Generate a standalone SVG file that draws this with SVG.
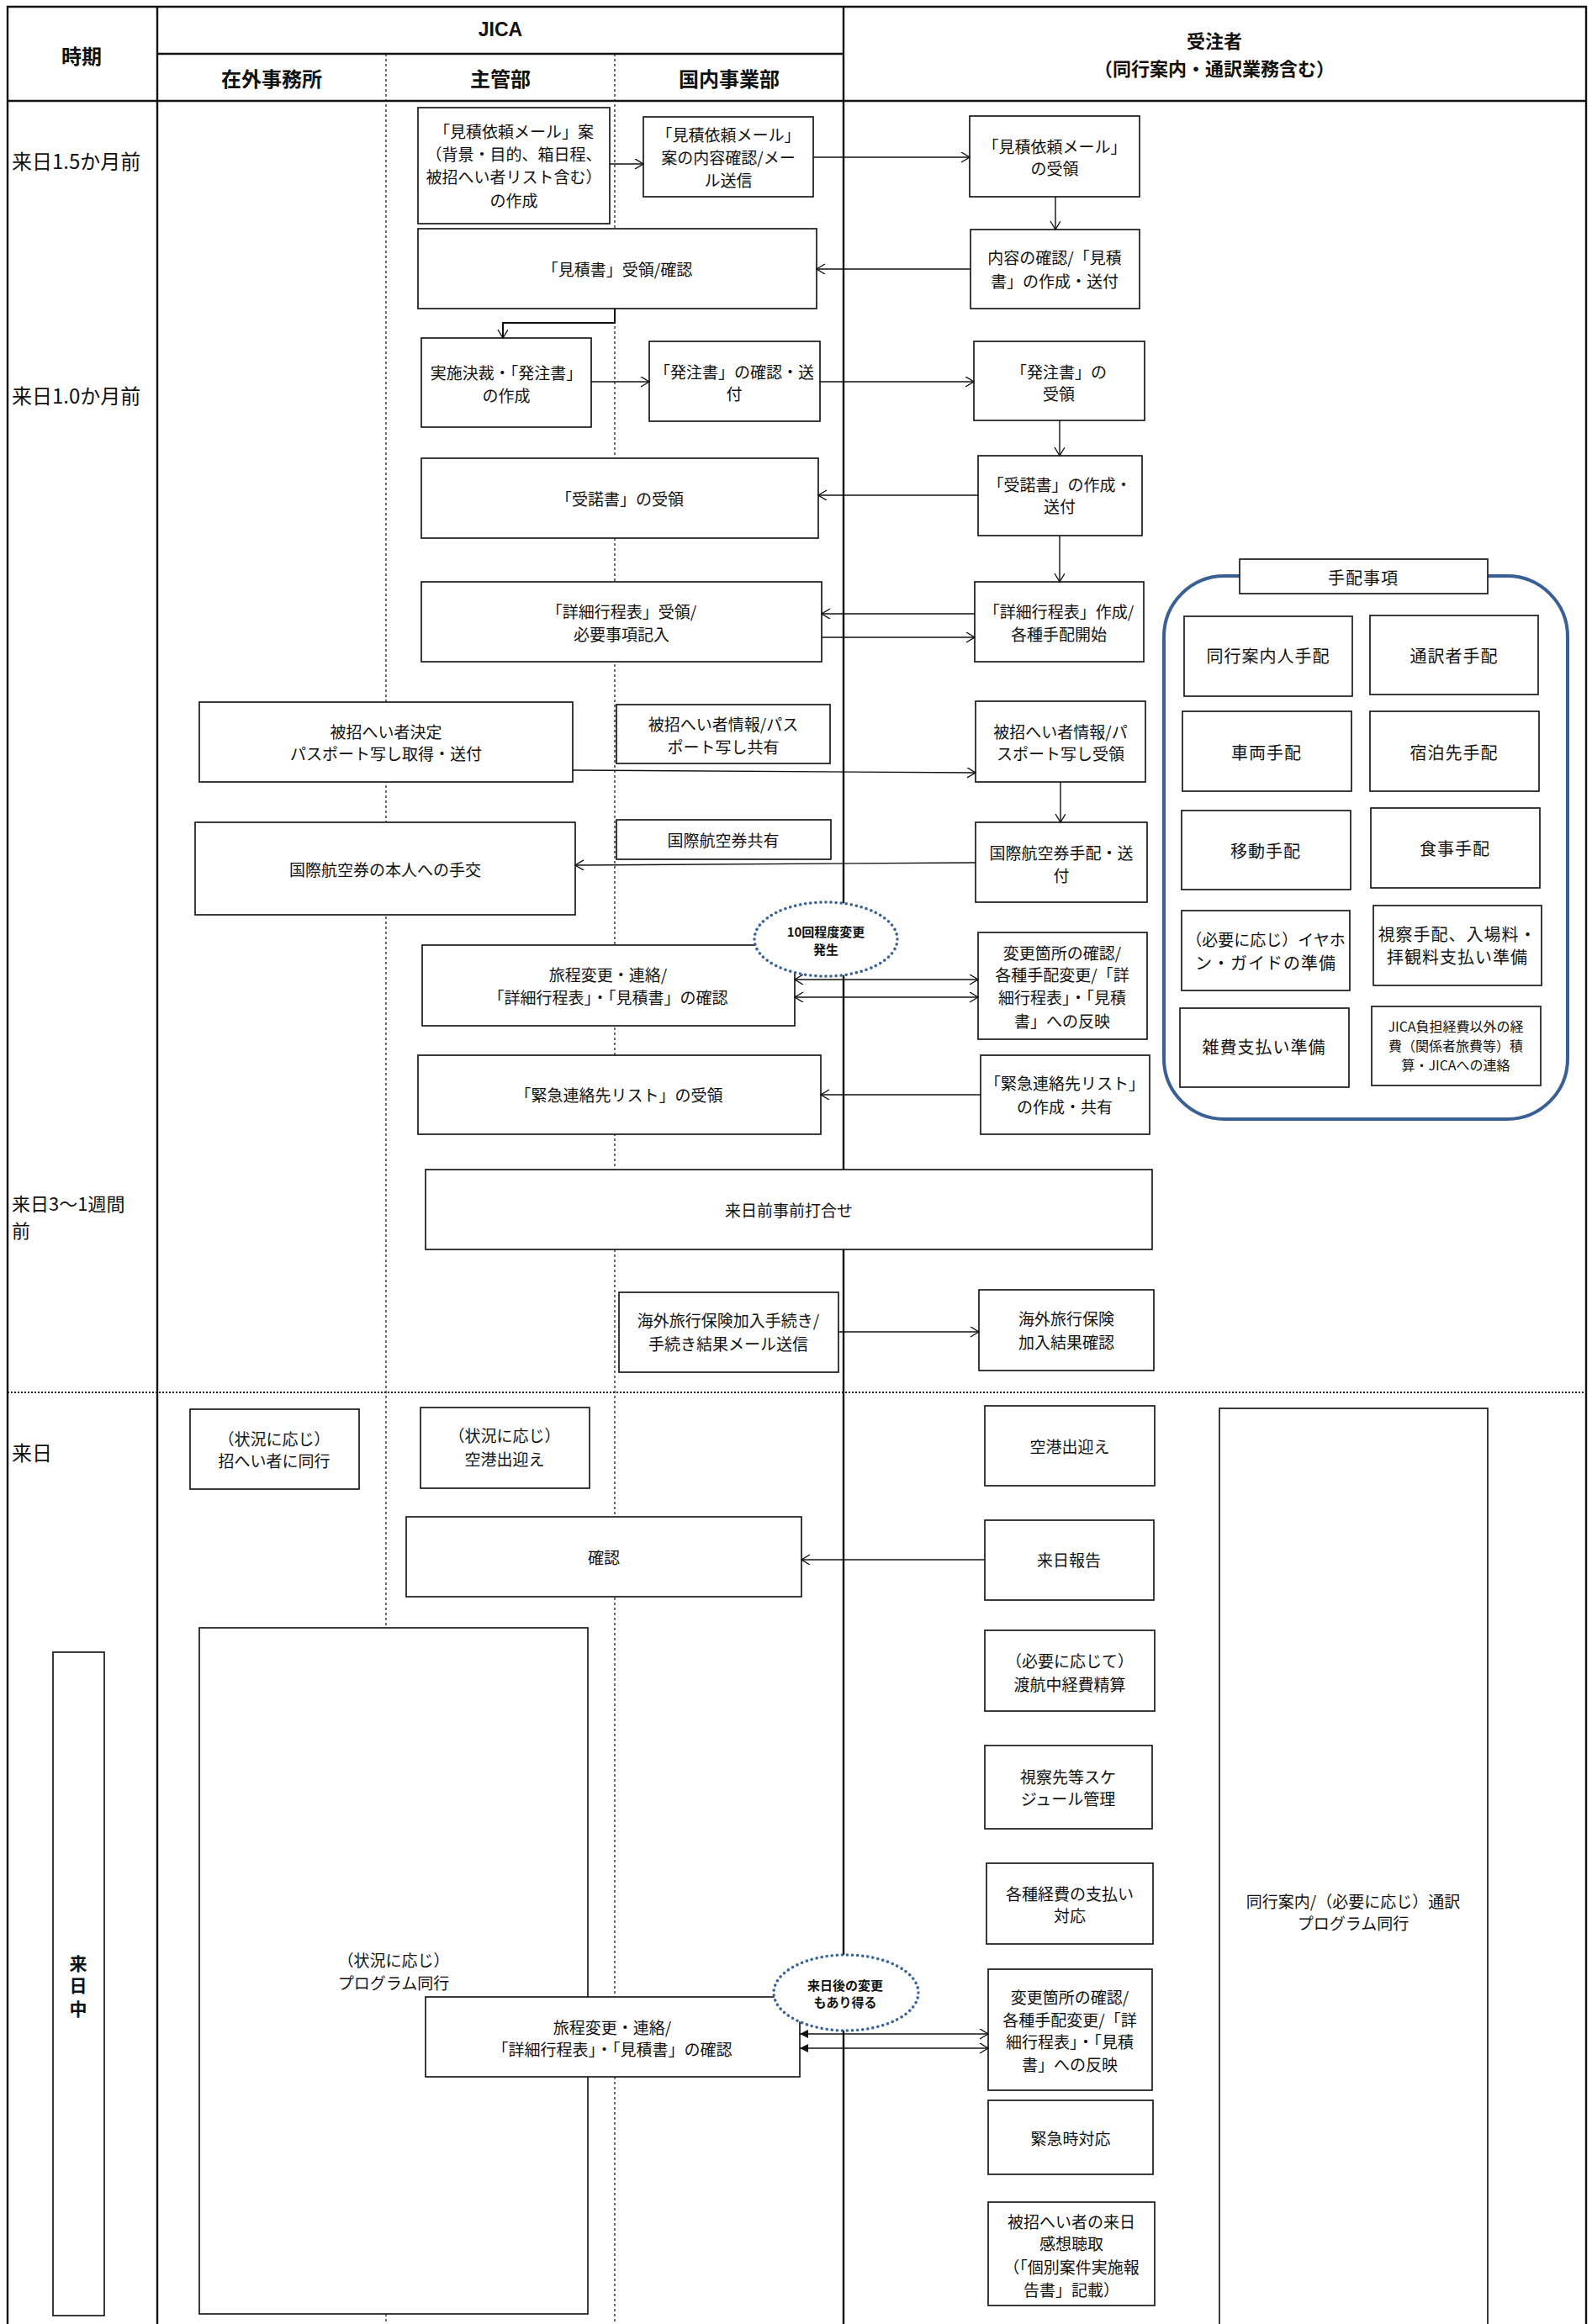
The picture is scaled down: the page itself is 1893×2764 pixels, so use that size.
<svg xmlns="http://www.w3.org/2000/svg" width="1893" height="2764" viewBox="0 0 1893 2764">
<style>
.t{font-family:"Noto Sans CJK JP","Noto Sans",sans-serif;font-size:19px;text-anchor:middle;dominant-baseline:central;fill:#111}
.g{font-size:20px;letter-spacing:1px}
.s{font-size:16px}
.h{font-weight:bold;font-size:24px}
.l{font-size:24px;text-anchor:start}
.e{font-weight:bold;font-size:15px}
.b{fill:#fff;stroke:#1a1a1a;stroke-width:1.7}
.fr{fill:none;stroke:#111;stroke-width:2.4}
.dt{fill:none;stroke:#222;stroke-width:1.3;stroke-dasharray:3 3}
.c{fill:none;stroke:#111;stroke-width:1.4}
.ca{fill:none;stroke:#111;stroke-width:1.4;marker-end:url(#ah)}
.cd{fill:none;stroke:#111;stroke-width:1.4;marker-start:url(#ah);marker-end:url(#ah)}
.cf{fill:none;stroke:#111;stroke-width:1.4;marker-start:url(#af);marker-end:url(#ah)}
.el{fill:#fff;stroke:#3b6397;stroke-width:3.5;stroke-dasharray:0.1 6;stroke-linecap:round}
</style>
<defs>
<marker id="ah" markerUnits="userSpaceOnUse" markerWidth="14" markerHeight="14" refX="11" refY="6" orient="auto-start-reverse">
<path d="M1,0 L11,6 L1,12" fill="none" stroke="#111" stroke-width="1.4"/>
</marker>
<marker id="af" markerUnits="userSpaceOnUse" markerWidth="14" markerHeight="14" refX="10" refY="5" orient="auto-start-reverse">
<path d="M0,0 L10,5 L0,10 Z" fill="#111"/>
</marker>
</defs>
<rect x="0" y="0" width="1893" height="2764" fill="#fff"/>

<g id="frame">
<path class="fr" d="M9,2764 V8 H1886 V2764"/>
<path class="fr" d="M187,8 V2764 M1003,8 V2764 M187,64 H1003 M9,120 H1886"/>
<path class="dt" d="M459,64 V2764 M731,64 V2764"/>
<path fill="none" stroke="#222" stroke-width="2.2" stroke-dasharray="2 2" d="M9,1656 H1886"/>
<text class="t h" x="97" y="65">時期</text>
<text class="t h" x="595" y="35" style="font-family:'Liberation Sans',sans-serif;font-size:23px">JICA</text>
<text class="t h" x="323" y="92">在外事務所</text>
<text class="t h" x="595" y="92">主管部</text>
<text class="t h" x="867" y="92">国内事業部</text>
<text class="t h" x="1444" y="47" style="font-size:22px">受注者</text>
<text class="t h" x="1444" y="80" style="font-size:22px">（同行案内・通訳業務含む）</text>
<text class="t l" x="14" y="190">来日1.5か月前</text>
<text class="t l" x="14" y="469">来日1.0か月前</text>
<text class="t l" x="14" y="1430" style="font-size:22px">来日3〜1週間</text>
<text class="t l" x="14" y="1462" style="font-size:22px">前</text>
<text class="t l" x="14" y="1726">来日</text>
</g>

<g id="n-mitsumori-an"><rect class="b" x="497" y="128" width="228" height="138"/>
<text class="t" x="611" y="155">「見積依頼メール」案</text><text class="t" x="611" y="182">（背景・目的、箱日程、</text><text class="t" x="611" y="209">被招へい者リスト含む）</text><text class="t" x="611" y="237">の作成</text></g>
<g id="n-mitsumori-kakunin"><rect class="b" x="765" y="139" width="202" height="95"/>
<text class="t" x="866" y="159">「見積依頼メール」</text><text class="t" x="866" y="186">案の内容確認/メー</text><text class="t" x="866" y="213">ル送信</text></g>
<g id="n-mitsumori-juryo"><rect class="b" x="1153" y="138" width="202" height="96"/>
<text class="t" x="1254" y="173">「見積依頼メール」</text><text class="t" x="1254" y="199">の受領</text></g>
<g id="n-mitsumorisho"><rect class="b" x="497" y="272" width="474" height="95"/>
<text class="t" x="734" y="319">「見積書」受領/確認</text></g>
<g id="n-naiyo"><rect class="b" x="1154" y="273" width="201" height="94"/>
<text class="t" x="1254" y="305">内容の確認/「見積</text><text class="t" x="1254" y="333">書」の作成・送付</text></g>
<g id="n-jisshi"><rect class="b" x="501" y="402" width="202" height="106"/>
<text class="t" x="602" y="442">実施決裁・「発注書」</text><text class="t" x="602" y="469">の作成</text></g>
<g id="n-hatchu-kakunin"><rect class="b" x="772" y="406" width="203" height="95"/>
<text class="t" x="873" y="441">「発注書」の確認・送</text><text class="t" x="873" y="467">付</text></g>
<g id="n-hatchu-juryo"><rect class="b" x="1158" y="406" width="203" height="94"/>
<text class="t" x="1259" y="441">「発注書」の</text><text class="t" x="1259" y="467">受領</text></g>
<g id="n-judaku-juryo"><rect class="b" x="501" y="545" width="472" height="95"/>
<text class="t" x="737" y="592">「受諾書」の受領</text></g>
<g id="n-judaku-sakusei"><rect class="b" x="1163" y="542" width="195" height="95"/>
<text class="t" x="1260" y="575">「受諾書」の作成・</text><text class="t" x="1260" y="601">送付</text></g>
<g id="n-shosai-juryo"><rect class="b" x="501" y="692" width="476" height="95"/>
<text class="t" x="739" y="726">「詳細行程表」受領/</text><text class="t" x="739" y="753">必要事項記入</text></g>
<g id="n-shosai-sakusei"><rect class="b" x="1159" y="692" width="201" height="95"/>
<text class="t" x="1259" y="726">「詳細行程表」作成/</text><text class="t" x="1259" y="753">各種手配開始</text></g>
<g id="n-kettei"><rect class="b" x="237" y="835" width="444" height="95"/>
<text class="t" x="459" y="869">被招へい者決定</text><text class="t" x="459" y="895">パスポート写し取得・送付</text></g>
<g id="n-passport-kyoyu"><rect class="b" x="733" y="838" width="254" height="70"/>
<text class="t" x="860" y="860">被招へい者情報/パス</text><text class="t" x="860" y="887">ポート写し共有</text></g>
<g id="n-passport-juryo"><rect class="b" x="1160" y="834" width="202" height="96"/>
<text class="t" x="1261" y="869">被招へい者情報/パ</text><text class="t" x="1261" y="895">スポート写し受領</text></g>
<g id="n-koku-kyoyu"><rect class="b" x="733" y="975" width="255" height="47"/>
<text class="t" x="860" y="998">国際航空券共有</text></g>
<g id="n-koku-teko"><rect class="b" x="232" y="978" width="452" height="110"/>
<text class="t" x="458" y="1033">国際航空券の本人への手交</text></g>
<g id="n-koku-tehai"><rect class="b" x="1160" y="978" width="204" height="95"/>
<text class="t" x="1262" y="1013">国際航空券手配・送</text><text class="t" x="1262" y="1040">付</text></g>
<g id="n-ryotei1"><rect class="b" x="502" y="1124" width="443" height="96"/>
<text class="t" x="723" y="1158">旅程変更・連絡/</text><text class="t" x="723" y="1185">「詳細行程表」・「見積書」の確認</text></g>
<g id="n-henko1"><rect class="b" x="1163" y="1109" width="201" height="127"/>
<text class="t" x="1263" y="1132">変更箇所の確認/</text><text class="t" x="1263" y="1158">各種手配変更/「詳</text><text class="t" x="1263" y="1185">細行程表」・「見積</text><text class="t" x="1263" y="1213">書」への反映</text></g>
<g id="n-kinkyu-juryo"><rect class="b" x="497" y="1255" width="479" height="94"/>
<text class="t" x="736" y="1301">「緊急連絡先リスト」の受領</text></g>
<g id="n-kinkyu-sakusei"><rect class="b" x="1166" y="1255" width="201" height="94"/>
<text class="t" x="1266" y="1287">「緊急連絡先リスト」</text><text class="t" x="1266" y="1315">の作成・共有</text></g>
<g id="n-uchiawase"><rect class="b" x="506" y="1391" width="864" height="95"/>
<text class="t" x="938" y="1438">来日前事前打合せ</text></g>
<g id="n-hoken"><rect class="b" x="736" y="1537" width="261" height="95"/>
<text class="t" x="866" y="1569">海外旅行保険加入手続き/</text><text class="t" x="866" y="1597">手続き結果メール送信</text></g>
<g id="n-hoken-kakunin"><rect class="b" x="1164" y="1534" width="208" height="96"/>
<text class="t" x="1268" y="1567">海外旅行保険</text><text class="t" x="1268" y="1595">加入結果確認</text></g>
<g id="n-zaigai-doko"><rect class="b" x="226" y="1676" width="201" height="95"/>
<text class="t" x="326" y="1710">（状況に応じ）</text><text class="t" x="326" y="1736">招へい者に同行</text></g>
<g id="n-shukan-demukae"><rect class="b" x="500" y="1674" width="201" height="96"/>
<text class="t" x="600" y="1706">（状況に応じ）</text><text class="t" x="600" y="1734">空港出迎え</text></g>
<g id="n-kuko"><rect class="b" x="1171" y="1672" width="202" height="95"/>
<text class="t" x="1272" y="1719">空港出迎え</text></g>
<g id="n-doko-tsuyaku"><rect class="b" x="1450" y="1675" width="319" height="1130"/>
<text class="t" x="1609" y="2260">同行案内/（必要に応じ）通訳</text><text class="t" x="1609" y="2286">プログラム同行</text></g>
<g id="n-kakunin"><rect class="b" x="483" y="1804" width="470" height="95"/>
<text class="t" x="718" y="1851">確認</text></g>
<g id="n-raichi-hokoku"><rect class="b" x="1171" y="1808" width="201" height="95"/>
<text class="t" x="1271" y="1854">来日報告</text></g>
<g id="n-program-doko"><rect class="b" x="237" y="1936" width="462" height="816"/>
<text class="t" x="468" y="2330">（状況に応じ）</text><text class="t" x="468" y="2357">プログラム同行</text></g>
<g id="n-raichichu"><rect class="b" x="63" y="1965" width="61" height="789"/>
<text class="t" x="93" y="2334" style="font-weight:bold;font-size:21px">来</text><text class="t" x="93" y="2360" style="font-weight:bold;font-size:21px">日</text><text class="t" x="93" y="2388" style="font-weight:bold;font-size:21px">中</text></g>
<g id="n-keihi-seisan"><rect class="b" x="1171" y="1939" width="202" height="96"/>
<text class="t" x="1272" y="1974">（必要に応じて）</text><text class="t" x="1272" y="2002">渡航中経費精算</text></g>
<g id="n-schedule"><rect class="b" x="1171" y="2076" width="199" height="99"/>
<text class="t" x="1270" y="2112">視察先等スケ</text><text class="t" x="1270" y="2138">ジュール管理</text></g>
<g id="n-shiharai"><rect class="b" x="1173" y="2216" width="198" height="96"/>
<text class="t" x="1272" y="2251">各種経費の支払い</text><text class="t" x="1272" y="2277">対応</text></g>
<g id="n-ryotei2"><rect class="b" x="506" y="2375" width="445" height="95"/>
<text class="t" x="728" y="2410">旅程変更・連絡/</text><text class="t" x="728" y="2436">「詳細行程表」・「見積書」の確認</text></g>
<g id="n-henko2"><rect class="b" x="1175" y="2342" width="195" height="144"/>
<text class="t" x="1272" y="2374">変更箇所の確認/</text><text class="t" x="1272" y="2401">各種手配変更/「詳</text><text class="t" x="1272" y="2427">細行程表」・「見積</text><text class="t" x="1272" y="2454">書」への反映</text></g>
<g id="n-kinkyu-taio"><rect class="b" x="1175" y="2498" width="196" height="88"/>
<text class="t" x="1273" y="2542">緊急時対応</text></g>
<g id="n-kanso"><rect class="b" x="1175" y="2619" width="198" height="123"/>
<text class="t" x="1274" y="2641">被招へい者の来日</text><text class="t" x="1274" y="2667">感想聴取</text><text class="t" x="1274" y="2695">（「個別案件実施報</text><text class="t" x="1274" y="2722">告書」記載）</text></g>

<g id="connectors">
<path class="ca" d="M725,195 H765"/>
<path class="ca" d="M967,187 H1153"/>
<path class="ca" d="M1255,234 V273"/>
<path class="ca" d="M1154,320 H971"/>
<path class="ca" d="M731,367 V384 H598 V402" style="stroke-width:2"/>
<path class="ca" d="M703,454 H772"/>
<path class="ca" d="M975,454 H1158"/>
<path class="ca" d="M1260,500 V542"/>
<path class="ca" d="M1163,589 H973"/>
<path class="ca" d="M1260,637 V692"/>
<path class="ca" d="M1159,730 H977"/>
<path class="ca" d="M977,758 H1159"/>
<path class="ca" d="M681,916 L1160,919"/>
<path class="ca" d="M1261,930 V978"/>
<path class="ca" d="M1160,1026 L684,1029"/>
<path class="cd" d="M945,1165 H1163"/>
<path class="cd" d="M945,1186 H1163"/>
<path class="ca" d="M1166,1302 H976"/>
<path class="ca" d="M997,1584 H1164"/>
<path class="ca" d="M1171,1855 H953"/>
<path class="cf" d="M951,2419 H1175"/>
<path class="cf" d="M951,2436 H1175"/>
</g>

<g id="n-note1"><ellipse class="el" cx="982" cy="1117" rx="85" ry="44"/>
<text class="t e" x="982" y="1107">10回程度変更</text><text class="t e" x="982" y="1128">発生</text></g>
<g id="n-note2"><ellipse class="el" cx="1006" cy="2370" rx="86" ry="45"/>
<text class="t e" x="1005" y="2360">来日後の変更</text><text class="t e" x="1005" y="2380">もあり得る</text></g>

<g id="n-tehai">
<rect x="1384" y="685" width="480" height="646" rx="72" ry="72" fill="#fff" stroke="#3a5f94" stroke-width="4"/>
<rect class="b" x="1474" y="665" width="295" height="41"/>
<text class="t g" x="1621" y="686">手配事項</text>
</g>
<g id="n-t1"><rect class="b" x="1408" y="733" width="200" height="95"/><text class="t g" x="1508" y="779">同行案内人手配</text></g>
<g id="n-t2"><rect class="b" x="1629" y="732" width="200" height="94"/><text class="t g" x="1729" y="779">通訳者手配</text></g>
<g id="n-t3"><rect class="b" x="1406" y="846" width="201" height="95"/><text class="t g" x="1506" y="894">車両手配</text></g>
<g id="n-t4"><rect class="b" x="1629" y="846" width="201" height="95"/><text class="t g" x="1729" y="894">宿泊先手配</text></g>
<g id="n-t5"><rect class="b" x="1405" y="964" width="201" height="94"/><text class="t g" x="1505" y="1011">移動手配</text></g>
<g id="n-t6"><rect class="b" x="1630" y="961" width="201" height="95"/><text class="t g" x="1730" y="1008">食事手配</text></g>
<g id="n-t7"><rect class="b" x="1405" y="1083" width="200" height="95"/><text class="t" x="1505" y="1116">（必要に応じ）イヤホ</text><text class="t g" x="1505" y="1144">ン・ガイドの準備</text></g>
<g id="n-t8"><rect class="b" x="1633" y="1077" width="200" height="95"/><text class="t g" x="1733" y="1110">視察手配、入場料・</text><text class="t g" x="1733" y="1137">拝観料支払い準備</text></g>
<g id="n-t9"><rect class="b" x="1403" y="1199" width="201" height="94"/><text class="t g" x="1503" y="1244">雑費支払い準備</text></g>
<g id="n-t10"><rect class="b" x="1631" y="1197" width="201" height="94"/><text class="t s" x="1731" y="1220">JICA負担経費以外の経</text><text class="t s" x="1731" y="1243">費（関係者旅費等）積</text><text class="t s" x="1731" y="1266">算・JICAへの連絡</text></g>
</svg>
